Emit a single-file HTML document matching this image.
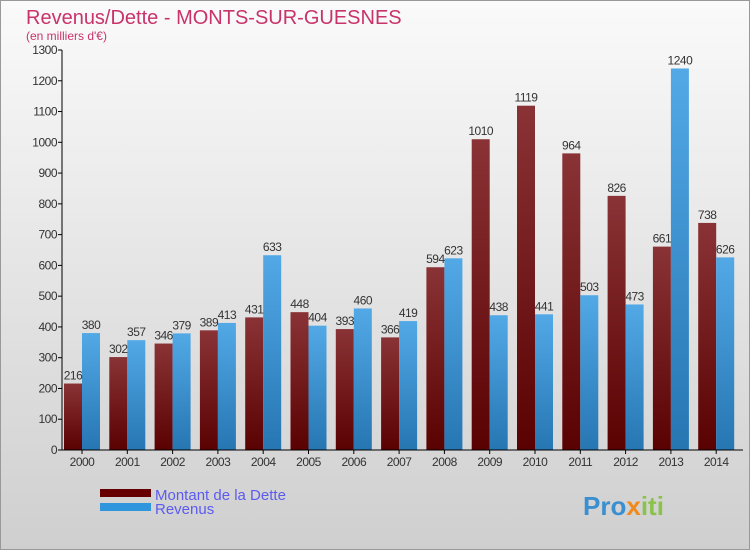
<!DOCTYPE html>
<html><head><meta charset="utf-8"><style>
body{margin:0;width:750px;height:550px;overflow:hidden;font-family:"Liberation Sans",sans-serif}
</style></head><body>
<svg width="750" height="550" xmlns="http://www.w3.org/2000/svg">
<defs>
<linearGradient id="bg" x1="0" y1="0" x2="0" y2="1"><stop offset="0" stop-color="#fafafa"/><stop offset="1" stop-color="#cfcfcf"/></linearGradient>
<linearGradient id="gd" x1="0" y1="0" x2="0" y2="1"><stop offset="0" stop-color="#8a3336"/><stop offset="1" stop-color="#5a0202"/></linearGradient>
<linearGradient id="gr" x1="0" y1="0" x2="0" y2="1"><stop offset="0" stop-color="#52a9e6"/><stop offset="1" stop-color="#2676b2"/></linearGradient>
</defs>
<rect x="0.5" y="0.5" width="749" height="549" fill="url(#bg)" stroke="#999"/>
<text x="26" y="24" font-size="20" fill="#c8336a">Revenus/Dette - MONTS-SUR-GUESNES</text>
<text x="26" y="40" font-size="12" fill="#c8336a">(en milliers d'€)</text>
<g id="plot"></g>
<rect x="100" y="489" width="51" height="8" fill="#660000"/>
<rect x="100" y="503" width="51" height="8" fill="#2f95dc"/>
<text x="155" y="500" font-size="15" fill="#5b5bf0">Montant de la Dette</text>
<text x="155" y="514" font-size="15" fill="#5b5bf0">Revenus</text>
<text x="583" y="515" font-size="26" font-weight="bold" fill="#3a8fd0">Pro<tspan fill="#f08a1c">x</tspan><tspan fill="#8bc34a">iti</tspan></text>
</svg>
<script>
const years=["2000","2001","2002","2003","2004","2005","2006","2007","2008","2009","2010","2011","2012","2013","2014"];
const dette=[216,302,346,389,431,448,393,366,594,1010,1119,964,826,661,738];
const revenus=[380,357,379,413,633,404,460,419,623,438,441,503,473,1240,626];
const yTicks=[0,100,200,300,400,500,600,700,800,900,1000,1100,1200,1300];
const NS="http://www.w3.org/2000/svg";
const g=document.getElementById('plot');
const y0=450,ymax=1300,ph=400,x0=62,step=45.3;
const Y=v=>y0-v/ymax*ph;
const X=i=>x0+20+i*step;
function mk(t,a,txt){const e=document.createElementNS(NS,t);for(const k in a)e.setAttribute(k,a[k]);if(txt!=null)e.textContent=txt;g.appendChild(e);return e;}
yTicks.forEach(v=>{
 let l=mk('line',{x1:x0-4,x2:x0,y1:Y(v),y2:Y(v),stroke:'#000'});
 
 
 let t=mk('text',{x:x0-5,y:Y(v)+4,'font-size':12,fill:'#333','text-anchor':'end','letter-spacing':'-0.5'},v);
 
 
});
years.forEach((yr,i)=>{
 const c=X(i);
 let b=mk('rect',{x:c-18,y:Y(dette[i]),width:18,height:y0-Y(dette[i]),fill:'url(#gd)'});
 
 
 let r=mk('rect',{x:c,y:Y(revenus[i]),width:18,height:y0-Y(revenus[i]),fill:'url(#gr)'});
 
 
 let t1=mk('text',{x:c-9,y:Y(dette[i])-4,'font-size':12,fill:'#333','text-anchor':'middle','letter-spacing':'-0.5'},dette[i]);
 
 
 let t2=mk('text',{x:c+9,y:Y(revenus[i])-4,'font-size':12,fill:'#333','text-anchor':'middle','letter-spacing':'-0.5'},revenus[i]);
 
 
 let tk=mk('line',{x1:c,x2:c,y1:y0,y2:y0+4,stroke:'#000'});
 
 
 let xl=mk('text',{x:c,y:y0+16,'font-size':12,fill:'#333','text-anchor':'middle','letter-spacing':'-0.5'},yr);
 
 
});
let ya=mk('line',{x1:x0,x2:x0,y1:Y(1300),y2:y0,stroke:'#000'});


let xa=mk('line',{x1:x0,x2:743,y1:y0,y2:y0,stroke:'#000'});


</script>
</body></html>
